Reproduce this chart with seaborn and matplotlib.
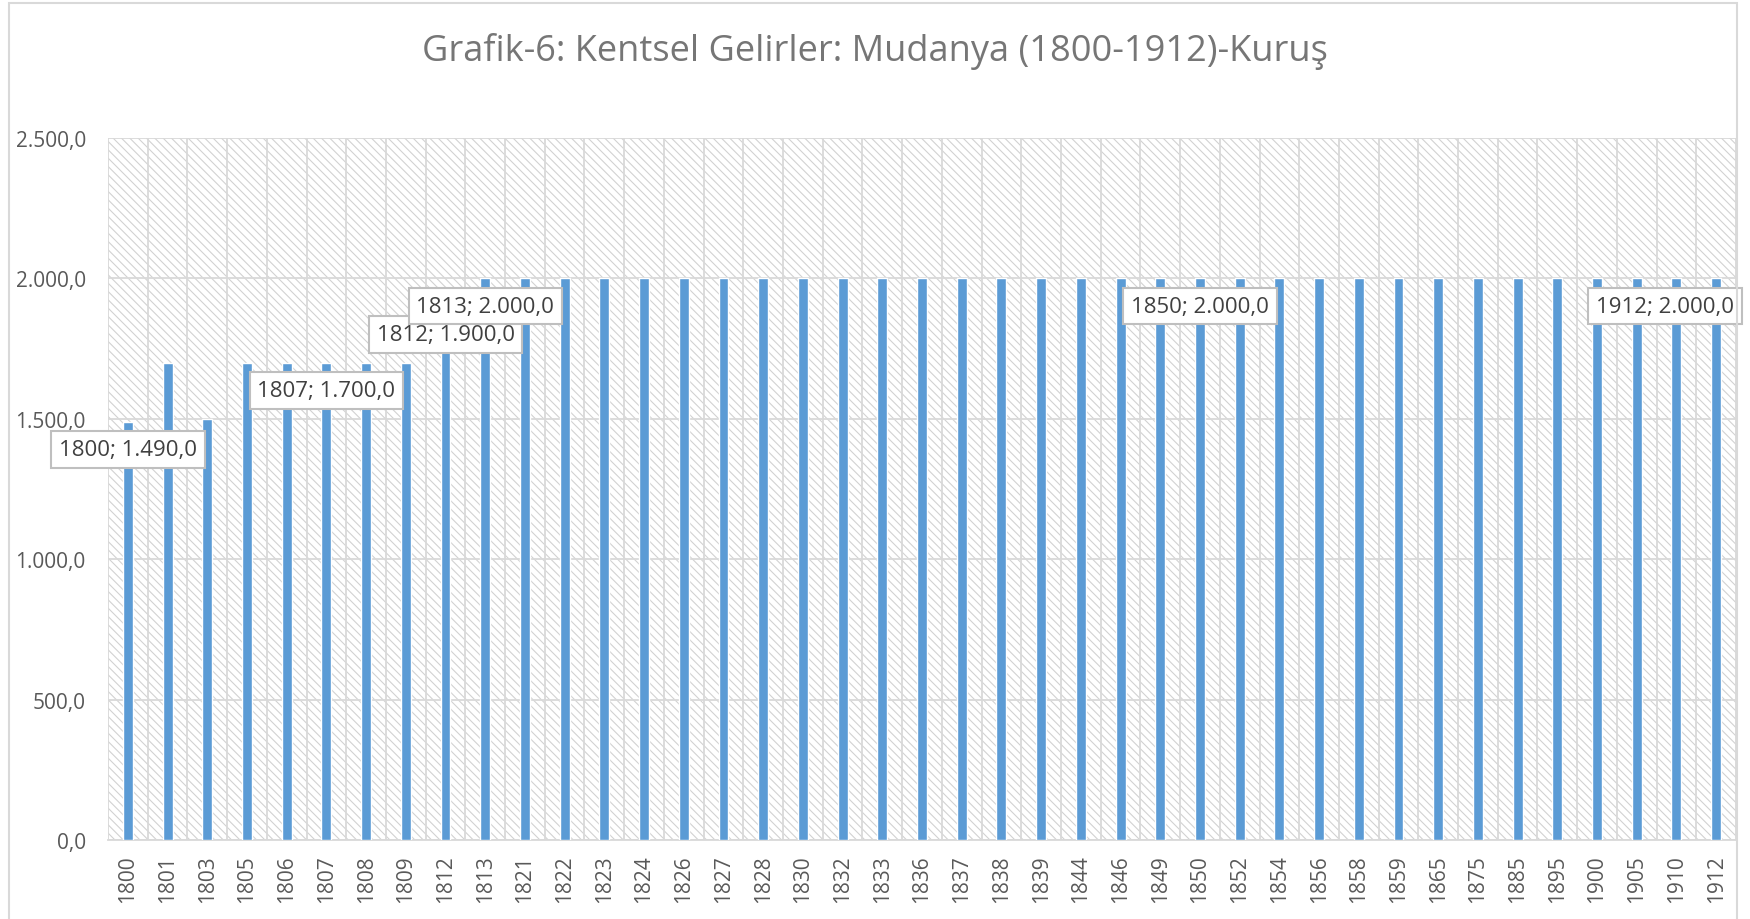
import matplotlib
matplotlib.use("Agg")
import matplotlib.pyplot as plt
import seaborn as sns
from matplotlib.patches import Rectangle
from matplotlib.ticker import FuncFormatter, FixedLocator

#==================
#Data
#==================
years = ["1800", "1801", "1803", "1805", "1806", "1807", "1808", "1809", "1812", "1813",
         "1821", "1822", "1823", "1824", "1826", "1827", "1828", "1830", "1832", "1833",
         "1836", "1837", "1838", "1839", "1844", "1846", "1849", "1850", "1852", "1854",
         "1856", "1858", "1859", "1865", "1875", "1885", "1895", "1900", "1905", "1910",
         "1912"]
revenue = [1490, 1700, 1500, 1700, 1700, 1700, 1700, 1700, 1900, 2000,
           2000, 2000, 2000, 2000, 2000, 2000, 2000, 2000, 2000, 2000,
           2000, 2000, 2000, 2000, 2000, 2000, 2000, 2000, 2000, 2000,
           2000, 2000, 2000, 2000, 2000, 2000, 2000, 2000, 2000, 2000,
           2000]
labeled_years = ["1800", "1807", "1812", "1813", "1850", "1912"]
y_ticks = [0, 500, 1000, 1500, 2000, 2500]

title = "Grafik-6: Kentsel Gelirler: Mudanya (1800-1912)-Kuruş"


def tr_num(v):
    # Turkish style: 1.490,0
    s = f"{v:,.1f}"
    return s.replace(",", "#").replace(".", ",").replace("#", ".")


#==================
#Style
#==================
sns.set_style("white")
plt.rcParams["font.family"] = ["Open Sans", "DejaVu Sans"]
plt.rcParams["hatch.linewidth"] = 0.8

grid_c = "#d9d9d9"
text_c = "#595959"
bar_c = "#5B9BD5"

fig = plt.figure(figsize=(17.5, 9.2), dpi=100)
ax = fig.add_axes([108 / 1750, 1 - 841 / 920, (1736 - 108) / 1750, (841 - 139) / 920])

# hatched plot area background
ax.add_patch(Rectangle((0, 0), 1, 1, transform=ax.transAxes, facecolor="white",
                       edgecolor="#d2d2d2", linewidth=0, hatch="\\\\\\\\", zorder=0))

sns.barplot(x=years, y=revenue, color=bar_c, saturation=1, width=0.25, ax=ax, zorder=3)

ax.set_xlim(-0.5, len(years) - 0.5)
ax.set_ylim(0, 2500)
ax.set_yticks(y_ticks)
ax.yaxis.set_major_formatter(FuncFormatter(lambda v, p: tr_num(v)))

# grid lines
ax.xaxis.set_minor_locator(FixedLocator([i - 0.5 for i in range(len(years) + 1)]))
ax.grid(axis="y", which="major", color=grid_c, linewidth=1.3, zorder=1)
ax.grid(axis="x", which="minor", color=grid_c, linewidth=1.3, zorder=1)
ax.grid(axis="x", which="major", visible=False)

for side in ["top", "right", "left"]:
    ax.spines[side].set_visible(False)
ax.spines["bottom"].set_color(grid_c)
ax.spines["bottom"].set_linewidth(1.3)

ax.tick_params(axis="both", which="both", length=0, colors=text_c, labelsize=15)
ax.tick_params(axis="y", pad=16)
ax.tick_params(axis="x", pad=10, labelrotation=90)
ax.set_xlabel("")
ax.set_ylabel("")

#==================
#Data labels
#==================
for yr in labeled_years:
    i = years.index(yr)
    dx = -37 if i == len(years) - 1 else 0
    ax.annotate(f"{yr}; {tr_num(revenue[i])}", xy=(i, revenue[i]), xytext=(dx, -20),
                textcoords="offset points", ha="center", va="center",
                fontsize=16, color="#404040", zorder=5,
                bbox=dict(boxstyle="square,pad=0.35", facecolor="white",
                          edgecolor="#bfbfbf", linewidth=1.5))

#==================
#Title and frame
#==================
fig.text(0.5, 1 - 51 / 920, title, ha="center", va="center", fontsize=26, color="#767676")
fig.add_artist(Rectangle((9 / 1750, -0.02), (1737 - 9) / 1750, 1.02 - 4 / 920,
                         transform=fig.transFigure, fill=False,
                         edgecolor=grid_c, linewidth=1.5))

plt.savefig("out.png", dpi=100)
